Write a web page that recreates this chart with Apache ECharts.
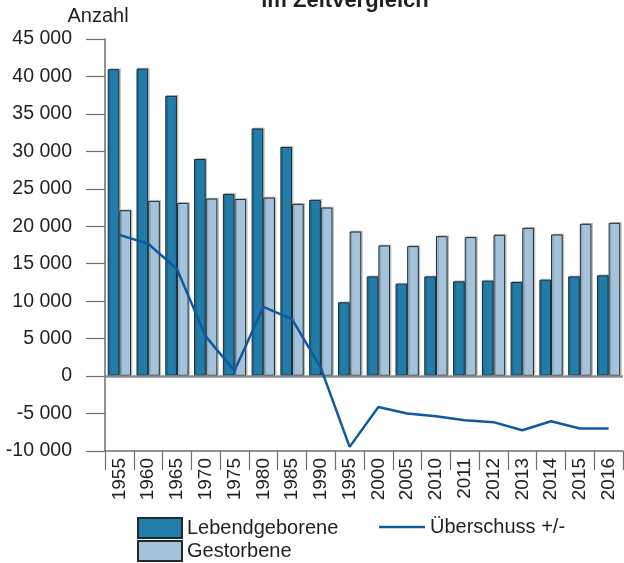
<!DOCTYPE html>
<html>
<head>
<meta charset="utf-8">
<script src="https://cdn.jsdelivr.net/npm/echarts@6/dist/echarts.min.js"></script>
<style>
html,body{margin:0;padding:0;background:#fff;}
#chart{width:624px;height:563px;}
</style>
</head>
<body>
<div id="chart"></div>
<script>
const categories = ['1955','1960','1965','1970','1975','1980','1985','1990','1995','2000','2005','2010','2011','2012','2013','2014','2015','2016'];
const lebendgeborene = [40970, 41050, 37410, 28980, 24320, 33060, 30580, 23520, 9850, 13310, 12340, 13310, 12650, 12740, 12560, 12870, 13310, 13450];
const gestorbene = [22140, 23390, 23120, 23700, 23650, 23830, 22990, 22500, 19300, 17440, 17350, 18680, 18550, 18860, 19790, 18900, 20330, 20460];
const ueberschuss = [18850, 17660, 14300, 5300, 700, 9230, 7600, 1100, -9450, -4130, -5000, -5370, -5900, -6150, -7230, -6030, -7000, -7000];
const yMin = -10000, yMax = 45000, yStep = 5000;
const seriesNames = ['Lebendgeborene', 'Gestorbene', 'Überschuss +/-'];

const FONT = 'Liberation Sans, Arial, sans-serif';
const TXT = '#231f20';
const AX = '#6d6e70';
const LEG_TEXT = {fontSize: 20, color: TXT, fontFamily: FONT};

function fmt(v) {
  const s = Math.abs(v).toString().replace(/\B(?=(\d{3})+(?!\d))/g, ' ');
  return (v < 0 ? '-' : '') + s;
}

const chart = echarts.init(document.getElementById('chart'), null, {renderer: 'canvas'});
chart.setOption({
  animation: false,
  textStyle: {fontFamily: FONT},
  grid: {left: 105, right: 1, top: 39, bottom: 112, containLabel: false},
  graphic: [
    {type: 'text', style: {text: 'im Zeitvergleich', x: 345, y: 1, textAlign: 'center', textVerticalAlign: 'middle', font: 'bold 22px ' + FONT, fill: TXT}},
    {type: 'text', style: {text: 'Anzahl', x: 98, y: 16, textAlign: 'center', textVerticalAlign: 'middle', font: '20px ' + FONT, fill: TXT}}
  ],
  legend: [
    {
      data: [seriesNames[0]], left: 137, top: 517, padding: 0,
      itemWidth: 44, itemHeight: 20, icon: 'rect', textStyle: LEG_TEXT
    },
    {
      data: [seriesNames[1]], left: 137, top: 540, padding: 0,
      itemWidth: 44, itemHeight: 20, icon: 'rect', textStyle: LEG_TEXT
    },
    {
      data: [seriesNames[2]], left: 379, top: 517, padding: 0,
      itemWidth: 46, itemHeight: 20,
      icon: 'path://M0,9 L46,9 L46,11.5 L0,11.5 Z',
      itemStyle: {color: '#0f5a9e', borderWidth: 0},
      textStyle: LEG_TEXT
    }
  ],
  xAxis: {
    type: 'category',
    data: categories,
    axisLine: {onZero: false, lineStyle: {color: AX, width: 1.5}},
    axisTick: {show: true, length: 19, interval: 0, lineStyle: {color: AX, width: 1.2}},
    axisLabel: {rotate: 90, interval: 0, margin: 7, fontSize: 19, color: TXT, fontFamily: FONT}
  },
  yAxis: {
    type: 'value',
    min: yMin, max: yMax, interval: yStep,
    splitLine: {show: false},
    axisLine: {show: true, lineStyle: {color: AX, width: 1.5}},
    axisTick: {show: true, length: 19, lineStyle: {color: AX, width: 1.2}},
    axisLabel: {margin: 33, fontSize: 19.5, color: TXT, fontFamily: FONT, formatter: fmt}
  },
  series: [
    {
      name: seriesNames[0], type: 'bar', data: lebendgeborene,
      barGap: '0%', barCategoryGap: '19%',
      itemStyle: {color: '#217ca8', borderColor: '#1d2a33', borderWidth: 1,
        shadowColor: 'rgba(0,0,0,0.18)', shadowOffsetX: 1.5, shadowOffsetY: -1, shadowBlur: 0},
      markLine: {silent: true, symbol: 'none', label: {show: false},
        lineStyle: {color: '#8a8b8d', width: 2.5, type: 'solid'}, data: [{yAxis: 0}]},
      z: 2
    },
    {
      name: seriesNames[1], type: 'bar', data: gestorbene,
      itemStyle: {color: '#a4c2d9', borderColor: '#1d2a33', borderWidth: 1,
        shadowColor: 'rgba(0,0,0,0.18)', shadowOffsetX: 1.5, shadowOffsetY: -1, shadowBlur: 0},
      z: 2
    },
    {
      name: seriesNames[2], type: 'line', data: ueberschuss,
      symbol: 'none', showSymbol: false,
      lineStyle: {color: '#0f5a9e', width: 2.5},
      itemStyle: {color: '#0f5a9e'},
      z: 5
    }
  ]
});
</script>
</body>
</html>
